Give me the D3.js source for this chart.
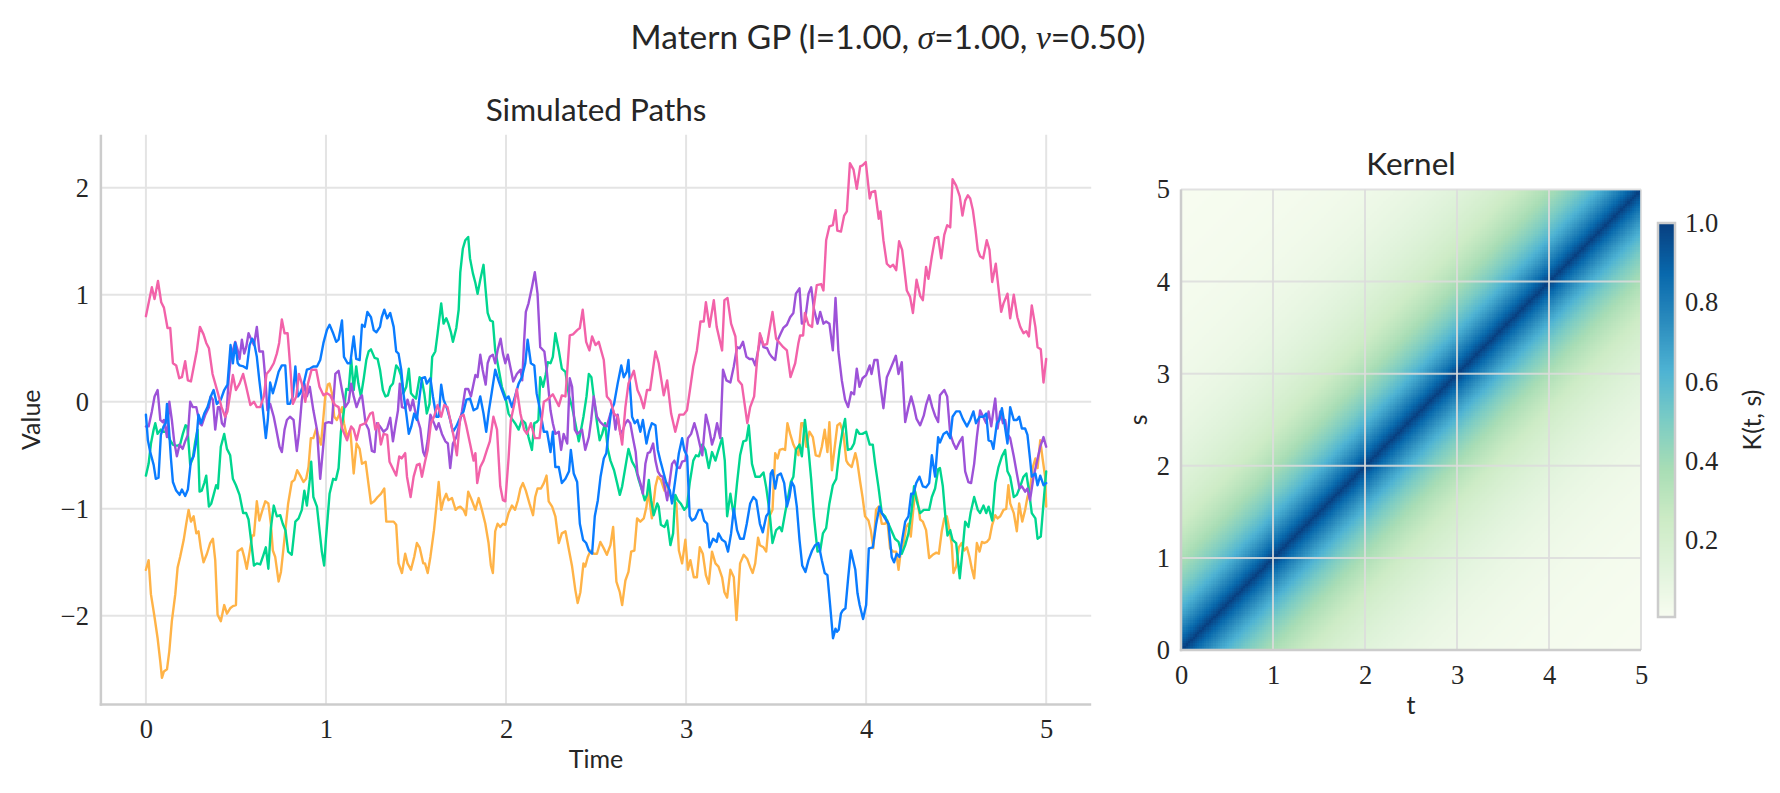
<!DOCTYPE html>
<html><head><meta charset="utf-8">
<script src="https://cdn.jsdelivr.net/npm/d3@7"></script>
<style>body{margin:0;background:#fff}svg{display:block}</style>
</head><body>
<svg id="c" width="1780" height="793"></svg>
<script>
// ---------- data ----------
const xTicks=[0,1,2,3,4,5];
const yTicks=[-2,-1,0,1,2];
const kernelTicks=[0,1,2,3,4,5];
const colorbarTicks=[0.2,0.4,0.6,0.8,1.0];
const lengthscale=1.0, sigma=1.0, nu=0.5;
const kernelGridSize=200;
const kernelRange=[0,5];

const pathBlue=[[0,-0.12],[0.011,-0.36],[0.024,-0.47],[0.043,-0.59],[0.055,-0.72],[0.07,-0.71],[0.083,-0.31],[0.098,-0.23],[0.11,-0.20],[0.117,-0.02],[0.126,-0.20],[0.139,-0.53],[0.15,-0.75],[0.168,-0.83],[0.187,-0.87],[0.20,-0.82],[0.218,-0.88],[0.233,-0.82],[0.25,-0.55],[0.265,-0.51],[0.28,-0.37],[0.292,-0.12],[0.307,-0.20],[0.324,-0.11],[0.342,-0.05],[0.36,0.05],[0.376,0.11],[0.394,-0.02],[0.416,0.02],[0.435,0.11],[0.453,0.16],[0.47,0.53],[0.483,0.36],[0.496,0.55],[0.51,0.36],[0.52,0.34],[0.542,0.33],[0.56,0.31],[0.576,0.53],[0.59,0.59],[0.60,0.56],[0.616,0.42],[0.63,0.20],[0.65,-0.08],[0.666,-0.34],[0.677,-0.17],[0.69,0.18],[0.705,0.08],[0.72,0.17],[0.737,0.28],[0.755,0.34],[0.774,0.34],[0.787,-0.02],[0.80,-0.02],[0.816,0.05],[0.83,0.33],[0.844,0.05],[0.857,0.08],[0.875,0.16],[0.894,0.30],[0.912,0.31],[0.93,0.33],[0.95,0.33],[0.968,0.39],[0.986,0.55],[1.005,0.67],[1.02,0.72],[1.04,0.64],[1.057,0.56],[1.07,0.58],[1.089,0.76],[1.10,0.42],[1.12,0.36],[1.135,0.36],[1.154,0.61],[1.168,0.40],[1.187,0.39],[1.20,0.72],[1.215,0.70],[1.23,0.84],[1.25,0.79],[1.265,0.67],[1.28,0.65],[1.30,0.70],[1.31,0.79],[1.324,0.86],[1.34,0.78],[1.357,0.83],[1.376,0.70],[1.39,0.47],[1.403,0.45],[1.418,0.30],[1.43,0.08],[1.446,-0.11],[1.46,-0.30],[1.474,-0.23],[1.49,-0.11],[1.505,-0.17],[1.52,0.05],[1.533,0.22],[1.55,0.23],[1.56,0.17],[1.58,0.22],[1.594,0.05],[1.613,-0.14],[1.626,-0.14],[1.64,0.16],[1.653,0.02],[1.672,-0.06],[1.69,-0.17],[1.705,-0.28],[1.724,-0.23],[1.742,-0.16],[1.764,-0.09],[1.78,0.02],[1.80,0.03],[1.82,-0.08],[1.84,-0.06],[1.857,0.05],[1.875,-0.11],[1.89,-0.28],[1.905,-0.08],[1.92,0.08],[1.94,0.30],[1.96,0.19],[1.977,0.11],[1.996,0.02],[2.014,0.05],[2.033,-0.05],[2.05,0.05],[2.07,0.17],[2.088,0.23],[2.107,0.36],[2.12,0.58],[2.138,0.36],[2.157,0.34],[2.17,0.08],[2.186,-0.05],[2.21,-0.28],[2.228,-0.28],[2.247,-0.47],[2.26,-0.28],[2.274,-0.61],[2.293,-0.61],[2.31,-0.76],[2.33,-0.72],[2.35,-0.65],[2.36,-0.45],[2.376,-0.67],[2.395,-0.75],[2.41,-1.14],[2.428,-1.29],[2.445,-1.32],[2.46,-1.39],[2.478,-1.42],[2.493,-1.07],[2.51,-0.92],[2.525,-0.70],[2.543,-0.53],[2.557,-0.48],[2.57,-0.28],[2.584,-0.08],[2.60,-0.02],[2.62,0.17],[2.64,0.34],[2.654,0.23],[2.67,0.28],[2.68,0.39],[2.69,0.11],[2.70,-0.14],[2.715,-0.20],[2.73,-0.17],[2.746,-0.28],[2.76,-0.17],[2.78,-0.39],[2.794,-0.28],[2.81,-0.20],[2.83,-0.22],[2.843,-0.45],[2.857,-0.55],[2.876,-0.67],[2.89,-0.76],[2.91,-0.83],[2.922,-0.95],[2.94,-0.73],[2.96,-0.48],[2.978,-0.34],[2.99,-0.45],[3.006,-0.51],[3.02,-1.07],[3.033,-1.11],[3.05,-1.09],[3.07,-1.01],[3.085,-1.01],[3.10,-1.11],[3.117,-1.14],[3.13,-1.36],[3.15,-1.28],[3.17,-1.31],[3.18,-1.23],[3.20,-1.29],[3.218,-1.31],[3.233,-1.40],[3.25,-1.23],[3.265,-1.00],[3.283,-1.20],[3.30,-1.28],[3.32,-1.28],[3.337,-1.14],[3.356,-0.95],[3.374,-0.89],[3.39,-0.92],[3.41,-1.14],[3.426,-1.22],[3.445,-1.07],[3.458,-1.04],[3.47,-0.67],[3.48,-0.64],[3.495,-0.81],[3.508,-0.69],[3.526,-0.67],[3.545,-0.76],[3.56,-0.98],[3.574,-0.89],[3.587,-0.75],[3.60,-0.79],[3.615,-0.98],[3.63,-1.29],[3.645,-1.53],[3.663,-1.59],[3.68,-1.48],[3.70,-1.39],[3.717,-1.34],[3.735,-1.32],[3.754,-1.48],[3.77,-1.60],[3.785,-1.62],[3.80,-1.90],[3.816,-2.21],[3.83,-2.12],[3.838,-2.15],[3.848,-2.13],[3.86,-1.98],[3.87,-1.95],[3.885,-1.93],[3.90,-1.65],[3.915,-1.39],[3.94,-1.57],[3.952,-1.79],[3.964,-1.90],[3.983,-2.03],[4.00,-1.90],[4.015,-1.37],[4.037,-1.36],[4.055,-1.15],[4.074,-0.98],[4.087,-1.04],[4.105,-1.09],[4.124,-1.14],[4.142,-1.45],[4.155,-1.50],[4.17,-1.42],[4.185,-1.45],[4.20,-1.29],[4.217,-1.12],[4.235,-1.07],[4.25,-0.86],[4.263,-0.86],[4.278,-0.76],[4.296,-0.70],[4.315,-0.79],[4.333,-0.80],[4.35,-0.76],[4.365,-0.50],[4.383,-0.70],[4.40,-0.33],[4.41,-0.38],[4.43,-0.30],[4.448,-0.28],[4.467,-0.34],[4.48,-0.14],[4.50,-0.09],[4.52,-0.09],[4.537,-0.16],[4.56,-0.23],[4.578,-0.17],[4.596,-0.09],[4.61,-0.20],[4.63,-0.14],[4.652,-0.14],[4.667,-0.11],[4.68,-0.36],[4.695,-0.37],[4.707,-0.44],[4.726,-0.20],[4.74,-0.17],[4.754,-0.06],[4.767,-0.19],[4.785,-0.39],[4.80,-0.05],[4.82,-0.17],[4.837,-0.17],[4.85,-0.14],[4.865,-0.25],[4.883,-0.25],[4.896,-0.31],[4.91,-0.53],[4.92,-0.70],[4.94,-0.67],[4.952,-0.78],[4.967,-0.69],[4.985,-0.78],[5.0,-0.76]];

const pathPink=[[0,0.80],[0.033,1.07],[0.048,0.96],[0.067,1.13],[0.085,0.93],[0.10,0.88],[0.12,0.69],[0.135,0.69],[0.15,0.36],[0.168,0.34],[0.185,0.22],[0.20,0.23],[0.218,0.38],[0.233,0.20],[0.25,0.19],[0.283,0.48],[0.30,0.70],[0.32,0.63],[0.335,0.55],[0.35,0.50],[0.37,0.26],[0.385,0.17],[0.40,0.08],[0.42,-0.05],[0.44,-0.14],[0.453,-0.09],[0.468,0.08],[0.483,0.25],[0.50,0.11],[0.52,0.17],[0.54,0.26],[0.557,0.14],[0.58,-0.03],[0.60,0.00],[0.616,-0.05],[0.635,-0.05],[0.655,0.05],[0.67,0.26],[0.69,0.30],[0.71,0.36],[0.727,0.45],[0.74,0.55],[0.755,0.77],[0.77,0.64],[0.787,0.64],[0.80,0.36],[0.816,-0.02],[0.835,0.05],[0.85,0.26],[0.866,0.17],[0.885,0.00],[0.90,0.17],[0.92,0.30],[0.946,0.30],[0.964,0.14],[0.986,0.06],[1.005,0.08],[1.023,0.06],[1.05,-0.03],[1.07,-0.05],[1.09,-0.25],[1.117,-0.36],[1.14,-0.23],[1.154,-0.26],[1.17,-0.36],[1.19,-0.22],[1.22,-0.20],[1.246,-0.11],[1.26,-0.10],[1.274,-0.26],[1.29,-0.20],[1.305,-0.40],[1.32,-0.30],[1.34,-0.31],[1.353,-0.56],[1.376,-0.64],[1.39,-0.69],[1.407,-0.51],[1.42,-0.53],[1.44,-0.48],[1.45,-0.70],[1.47,-0.89],[1.487,-0.70],[1.505,-0.59],[1.52,-0.58],[1.533,-0.70],[1.55,-0.56],[1.565,-0.45],[1.583,-0.20],[1.60,-0.14],[1.62,-0.03],[1.64,-0.14],[1.657,-0.03],[1.675,-0.05],[1.694,-0.20],[1.71,-0.33],[1.727,-0.50],[1.746,-0.14],[1.764,-0.12],[1.78,-0.23],[1.80,-0.39],[1.82,-0.55],[1.83,-0.48],[1.84,-0.76],[1.857,-0.61],[1.875,-0.55],[1.894,-0.45],[1.91,-0.37],[1.93,-0.14],[1.95,-0.26],[1.968,-0.79],[1.983,-0.92],[1.996,-0.93],[2.014,-0.53],[2.027,-0.17],[2.046,-0.02],[2.06,0.12],[2.08,-0.11],[2.10,-0.26],[2.116,-0.30],[2.138,-0.20],[2.16,-0.34],[2.186,-0.34],[2.21,0.00],[2.228,0.02],[2.26,0.07],[2.293,-0.04],[2.31,0.06],[2.33,0.05],[2.354,0.62],[2.372,0.63],[2.395,0.67],[2.41,0.69],[2.426,0.86],[2.445,0.56],[2.463,0.48],[2.478,0.61],[2.497,0.53],[2.515,0.56],[2.543,0.39],[2.56,0.05],[2.58,0.01],[2.60,-0.11],[2.62,-0.14],[2.645,-0.40],[2.663,-0.05],[2.68,0.17],[2.71,0.29],[2.73,0.11],[2.746,0.05],[2.765,-0.06],[2.783,0.11],[2.80,0.11],[2.83,0.47],[2.848,0.36],[2.876,0.06],[2.895,0.20],[2.917,-0.11],[2.94,-0.28],[2.963,-0.12],[2.987,-0.12],[3.005,-0.08],[3.024,0.14],[3.04,0.33],[3.06,0.48],[3.08,0.75],[3.098,0.75],[3.11,0.93],[3.13,0.70],[3.154,0.95],[3.17,0.70],[3.20,0.48],[3.213,0.95],[3.23,0.97],[3.25,0.73],[3.274,0.61],[3.29,0.20],[3.31,0.16],[3.34,-0.20],[3.356,-0.05],[3.378,0.05],[3.393,0.36],[3.41,0.64],[3.43,0.53],[3.45,0.54],[3.48,0.84],[3.50,0.59],[3.52,0.55],[3.54,0.51],[3.56,0.48],[3.58,0.23],[3.606,0.36],[3.624,0.55],[3.633,0.62],[3.65,0.62],[3.66,0.83],[3.68,0.72],[3.70,0.70],[3.708,0.87],[3.726,1.09],[3.75,1.10],[3.763,1.04],[3.778,1.51],[3.796,1.64],[3.815,1.65],[3.83,1.79],[3.84,1.60],[3.86,1.59],[3.878,1.74],[3.893,1.78],[3.91,2.23],[3.93,2.17],[3.948,1.99],[3.967,2.20],[3.98,2.21],[3.998,2.24],[4.02,1.90],[4.03,1.96],[4.05,1.97],[4.07,1.71],[4.08,1.78],[4.096,1.51],[4.115,1.29],[4.133,1.26],[4.15,1.28],[4.167,1.23],[4.183,1.50],[4.20,1.42],[4.226,1.04],[4.244,0.98],[4.26,0.83],[4.28,1.14],[4.30,0.99],[4.315,0.95],[4.333,1.26],[4.346,1.15],[4.365,1.36],[4.383,1.53],[4.40,1.54],[4.417,1.34],[4.434,1.56],[4.45,1.65],[4.467,1.63],[4.48,2.08],[4.50,2.02],[4.52,1.92],[4.535,1.74],[4.55,1.88],[4.565,1.93],[4.578,1.90],[4.593,1.79],[4.608,1.60],[4.62,1.42],[4.633,1.36],[4.65,1.34],[4.67,1.51],[4.685,1.42],[4.70,1.12],[4.72,1.29],[4.73,1.14],[4.75,0.84],[4.763,0.92],[4.785,1.01],[4.80,0.78],[4.82,1.00],[4.84,0.79],[4.856,0.70],[4.874,0.64],[4.89,0.66],[4.904,0.61],[4.92,0.90],[4.94,0.70],[4.952,0.51],[4.97,0.49],[4.985,0.18],[5.0,0.40]];

const pathPurple=[[0,-0.23],[0.015,-0.23],[0.033,-0.09],[0.048,0.05],[0.065,0.11],[0.08,-0.17],[0.093,-0.19],[0.10,-0.17],[0.117,-0.33],[0.13,0.00],[0.144,-0.17],[0.157,-0.37],[0.172,-0.51],[0.187,-0.40],[0.204,-0.44],[0.218,-0.37],[0.233,-0.31],[0.246,0.00],[0.26,-0.05],[0.28,-0.05],[0.298,-0.20],[0.31,-0.22],[0.33,-0.12],[0.35,-0.05],[0.36,0.05],[0.372,0.02],[0.385,-0.26],[0.40,-0.05],[0.41,-0.05],[0.422,-0.20],[0.435,-0.23],[0.45,-0.05],[0.46,0.22],[0.47,0.39],[0.483,0.48],[0.496,0.56],[0.51,0.48],[0.52,0.40],[0.533,0.58],[0.546,0.45],[0.557,0.51],[0.57,0.64],[0.583,0.59],[0.60,0.53],[0.616,0.70],[0.63,0.47],[0.65,0.47],[0.663,0.22],[0.675,-0.08],[0.69,-0.02],[0.71,-0.14],[0.724,-0.26],[0.742,-0.42],[0.755,-0.47],[0.77,-0.26],[0.783,-0.17],[0.80,-0.14],[0.82,-0.17],[0.838,-0.46],[0.85,-0.30],[0.866,0.02],[0.88,0.17],[0.894,0.05],[0.91,0.14],[0.93,-0.08],[0.95,-0.26],[0.968,-0.72],[0.983,-0.45],[0.996,-0.20],[1.015,-0.19],[1.033,-0.20],[1.052,0.26],[1.07,0.29],[1.089,0.11],[1.107,-0.05],[1.126,0.00],[1.14,0.17],[1.154,0.05],[1.17,-0.05],[1.187,0.03],[1.20,0.06],[1.22,-0.20],[1.237,-0.26],[1.255,-0.46],[1.27,-0.47],[1.283,-0.20],[1.30,-0.23],[1.32,-0.28],[1.34,-0.25],[1.357,-0.15],[1.372,-0.37],[1.385,-0.23],[1.40,-0.08],[1.41,0.17],[1.422,-0.05],[1.44,-0.06],[1.453,0.02],[1.468,-0.08],[1.483,0.02],[1.496,-0.09],[1.51,-0.17],[1.524,-0.25],[1.54,-0.47],[1.55,-0.51],[1.565,-0.36],[1.58,-0.12],[1.60,-0.20],[1.613,-0.26],[1.626,-0.20],[1.644,-0.30],[1.663,-0.37],[1.677,-0.39],[1.69,-0.62],[1.705,-0.39],[1.724,-0.33],[1.742,-0.20],[1.755,-0.09],[1.774,0.12],[1.79,0.12],[1.805,0.05],[1.82,0.17],[1.83,0.25],[1.842,0.23],[1.857,0.44],[1.87,0.30],[1.887,0.16],[1.898,0.36],[1.91,0.42],[1.927,0.44],[1.94,0.36],[1.953,0.48],[1.97,0.59],[1.983,0.45],[1.996,0.36],[2.01,0.44],[2.027,0.30],[2.04,0.19],[2.06,0.26],[2.08,0.30],[2.09,0.20],[2.10,0.55],[2.11,0.84],[2.125,0.92],[2.144,1.07],[2.16,1.21],[2.175,1.01],[2.19,0.51],[2.213,0.47],[2.228,0.26],[2.247,-0.08],[2.26,-0.20],[2.274,-0.30],[2.293,-0.28],[2.306,-0.45],[2.32,-0.30],[2.34,-0.39],[2.354,0.22],[2.367,0.14],[2.382,-0.26],[2.395,-0.30],[2.41,-0.28],[2.422,-0.26],[2.44,-0.45],[2.46,-0.33],[2.473,-0.17],[2.487,0.05],[2.505,-0.14],[2.524,-0.19],[2.543,-0.22],[2.56,-0.23],[2.58,-0.11],[2.595,-0.08],[2.608,-0.26],[2.62,-0.12],[2.635,-0.30],[2.65,-0.26],[2.663,-0.20],[2.676,-0.17],[2.69,-0.20],[2.705,-0.34],[2.72,-0.47],[2.73,-0.67],[2.746,-0.76],[2.76,-0.86],[2.774,-0.58],[2.787,-0.48],[2.80,-0.47],[2.817,-0.39],[2.83,-0.55],[2.843,-0.65],[2.857,-0.69],[2.87,-0.70],[2.885,-0.83],[2.895,-0.92],[2.91,-0.73],[2.922,-0.58],[2.935,-0.55],[2.95,-0.61],[2.965,-0.62],[2.978,-0.56],[2.996,-0.55],[3.01,-0.34],[3.028,-0.30],[3.046,-0.20],[3.06,-0.28],[3.076,-0.40],[3.09,-0.50],[3.11,-0.12],[3.126,-0.23],[3.144,-0.40],[3.157,-0.33],[3.172,-0.20],[3.19,-0.34],[3.205,0.30],[3.224,0.20],[3.246,0.18],[3.265,0.33],[3.283,0.51],[3.298,0.50],[3.316,0.56],[3.335,0.42],[3.352,0.40],[3.37,0.40],[3.384,0.34],[3.40,0.48],[3.415,0.61],[3.43,0.51],[3.45,0.50],[3.463,0.45],[3.476,0.42],[3.495,0.39],[3.51,0.58],[3.526,0.64],[3.54,0.69],[3.56,0.72],[3.578,0.79],[3.596,0.83],[3.61,1.01],[3.63,1.06],[3.643,0.73],[3.66,0.75],[3.68,1.01],[3.695,1.07],[3.71,0.87],[3.73,0.73],[3.745,0.84],[3.763,0.73],[3.778,0.75],[3.796,0.73],[3.815,0.48],[3.83,0.97],[3.846,0.47],[3.865,0.20],[3.883,0.02],[3.90,-0.05],[3.917,0.09],[3.933,0.07],[3.948,0.31],[3.963,0.14],[3.98,0.22],[4.00,0.25],[4.02,0.34],[4.03,0.26],[4.046,0.39],[4.063,0.39],[4.078,0.17],[4.096,-0.06],[4.115,0.23],[4.133,0.30],[4.148,0.36],[4.165,0.43],[4.18,0.26],[4.198,0.37],[4.217,-0.19],[4.235,-0.05],[4.25,0.05],[4.266,-0.05],[4.28,-0.16],[4.30,-0.22],[4.32,-0.13],[4.333,-0.03],[4.35,0.06],[4.367,-0.05],[4.383,-0.13],[4.40,-0.19],[4.41,0.06],[4.434,0.11],[4.45,0.05],[4.467,-0.30],[4.485,-0.39],[4.50,-0.44],[4.52,-0.37],[4.535,-0.33],[4.55,-0.65],[4.568,-0.75],[4.583,-0.76],[4.60,-0.58],[4.615,-0.33],[4.633,-0.08],[4.65,-0.14],[4.667,-0.20],[4.68,-0.09],[4.695,-0.23],[4.707,-0.08],[4.717,0.03],[4.73,-0.25],[4.745,-0.09],[4.76,-0.20],[4.772,-0.17],[4.785,-0.30],[4.80,-0.34],[4.82,-0.51],[4.837,-0.67],[4.852,-0.81],[4.865,-0.79],[4.883,-0.84],[4.896,-0.81],[4.91,-0.92],[4.93,-0.70],[4.95,-0.55],[4.967,-0.42],[4.985,-0.33],[5.0,-0.42]];

const pathGreen=[[0,-0.69],[0.015,-0.58],[0.028,-0.39],[0.043,-0.26],[0.052,-0.20],[0.065,-0.30],[0.083,-0.26],[0.098,-0.28],[0.117,-0.28],[0.135,-0.36],[0.15,-0.40],[0.163,-0.41],[0.176,-0.41],[0.19,-0.40],[0.205,-0.30],[0.22,-0.22],[0.23,-0.23],[0.246,-0.59],[0.26,-0.53],[0.274,-0.37],[0.287,-0.26],[0.298,-0.84],[0.31,-0.83],[0.324,-0.76],[0.335,-0.69],[0.35,-0.98],[0.363,-0.95],[0.376,-0.87],[0.39,-0.78],[0.40,-0.81],[0.416,-0.42],[0.435,-0.30],[0.45,-0.44],[0.468,-0.50],[0.483,-0.72],[0.50,-0.78],[0.52,-0.87],[0.54,-1.04],[0.557,-1.04],[0.57,-1.10],[0.583,-1.28],[0.60,-1.53],[0.616,-1.51],[0.635,-1.52],[0.653,-1.43],[0.666,-1.36],[0.68,-1.56],[0.694,-1.18],[0.71,-0.97],[0.727,-1.07],[0.746,-1.06],[0.76,-1.14],[0.775,-1.20],[0.79,-1.40],[0.81,-1.43],[0.83,-1.12],[0.848,-1.09],[0.866,-1.01],[0.88,-0.83],[0.894,-0.97],[0.91,-0.73],[0.918,-0.56],[0.93,-0.89],[0.95,-0.98],[0.964,-1.20],[0.977,-1.40],[0.99,-1.53],[1.0,-1.28],[1.02,-0.86],[1.04,-0.72],[1.055,-0.73],[1.07,-0.62],[1.083,-0.28],[1.098,-0.11],[1.113,0.12],[1.126,0.11],[1.14,0.40],[1.154,0.11],[1.168,0.33],[1.18,0.17],[1.194,0.05],[1.21,0.22],[1.224,0.39],[1.237,0.47],[1.25,0.49],[1.27,0.41],[1.287,0.40],[1.30,0.30],[1.316,0.11],[1.33,0.05],[1.344,0.06],[1.357,0.14],[1.372,0.17],[1.39,0.34],[1.403,0.31],[1.416,0.25],[1.43,0.08],[1.446,0.14],[1.46,0.31],[1.472,0.08],[1.487,0.05],[1.50,0.03],[1.52,0.23],[1.533,0.20],[1.546,0.08],[1.56,-0.11],[1.575,-0.02],[1.59,0.42],[1.607,0.47],[1.62,0.64],[1.64,0.92],[1.653,0.73],[1.668,0.78],[1.68,0.73],[1.694,0.65],[1.705,0.56],[1.724,0.69],[1.737,0.86],[1.746,1.21],[1.76,1.43],[1.774,1.51],[1.79,1.54],[1.80,1.34],[1.816,1.20],[1.83,1.11],[1.842,1.01],[1.857,1.14],[1.875,1.28],[1.887,1.04],[1.898,0.83],[1.912,0.76],[1.927,0.75],[1.94,0.48],[1.96,0.30],[1.977,0.14],[1.996,0.05],[2.014,-0.11],[2.033,-0.16],[2.05,-0.20],[2.07,-0.26],[2.088,-0.17],[2.107,-0.20],[2.125,-0.33],[2.144,-0.45],[2.157,-0.20],[2.17,-0.19],[2.18,-0.17],[2.19,0.23],[2.206,0.14],[2.22,0.25],[2.232,0.37],[2.247,0.36],[2.26,0.42],[2.274,0.64],[2.293,0.48],[2.31,0.31],[2.33,0.28],[2.35,0.05],[2.367,-0.05],[2.385,-0.20],[2.404,-0.37],[2.417,-0.26],[2.43,-0.14],[2.447,0.05],[2.46,0.26],[2.474,0.23],[2.487,0.05],[2.505,-0.19],[2.52,-0.36],[2.534,-0.30],[2.55,-0.20],[2.565,-0.44],[2.58,-0.55],[2.60,-0.64],[2.617,-0.76],[2.632,-0.87],[2.645,-0.79],[2.663,-0.61],[2.68,-0.44],[2.70,-0.56],[2.72,-0.62],[2.737,-0.73],[2.756,-0.83],[2.77,-0.92],[2.783,-0.87],[2.793,-0.73],[2.806,-0.92],[2.82,-1.06],[2.84,-0.95],[2.848,-0.98],[2.86,-1.15],[2.88,-1.17],[2.895,-1.11],[2.913,-1.34],[2.928,-1.23],[2.94,-0.87],[2.954,-0.92],[2.97,-0.95],[2.99,-1.01],[3.005,-0.98],[3.02,-0.76],[3.04,-0.55],[3.055,-0.50],[3.07,-0.51],[3.09,-0.40],[3.107,-0.45],[3.126,-0.62],[3.144,-0.47],[3.163,-0.55],[3.18,-0.45],[3.20,-0.34],[3.215,-0.55],[3.228,-1.07],[3.246,-0.86],[3.265,-1.07],[3.283,-0.76],[3.30,-0.50],[3.318,-0.37],[3.335,-0.36],[3.348,-0.22],[3.366,-0.58],[3.385,-0.70],[3.41,-0.70],[3.43,-0.66],[3.445,-0.80],[3.463,-1.02],[3.48,-1.32],[3.50,-1.20],[3.52,-1.17],[3.532,-1.21],[3.55,-1.04],[3.57,-0.86],[3.582,-0.75],[3.596,-0.70],[3.61,-0.45],[3.63,-0.40],[3.643,-0.51],[3.66,-0.17],[3.68,-0.45],[3.695,-0.73],[3.71,-1.07],[3.73,-1.40],[3.745,-1.39],[3.76,-1.23],[3.778,-1.18],[3.796,-0.95],[3.815,-0.78],[3.834,-0.72],[3.852,-0.45],[3.87,-0.26],[3.883,-0.16],[3.898,-0.45],[3.917,-0.44],[3.933,-0.39],[3.948,-0.26],[3.963,-0.30],[3.98,-0.30],[4.0,-0.28],[4.02,-0.40],[4.037,-0.40],[4.05,-0.58],[4.068,-0.79],[4.087,-1.04],[4.105,-1.07],[4.124,-1.14],[4.142,-1.21],[4.16,-1.28],[4.18,-1.31],[4.198,-1.42],[4.217,-1.34],[4.235,-1.23],[4.253,-1.01],[4.266,-0.79],[4.28,-0.92],[4.30,-1.04],[4.32,-1.01],[4.337,-1.01],[4.35,-1.01],[4.365,-0.89],[4.383,-0.81],[4.40,-0.63],[4.41,-0.62],[4.426,-0.79],[4.44,-1.07],[4.452,-1.25],[4.467,-1.20],[4.48,-1.29],[4.50,-1.32],[4.52,-1.65],[4.537,-1.36],[4.55,-1.12],[4.568,-1.17],[4.58,-1.04],[4.60,-0.89],[4.62,-1.01],[4.633,-1.04],[4.652,-0.97],[4.667,-1.04],[4.68,-0.98],[4.70,-1.11],[4.717,-0.76],[4.735,-0.61],[4.754,-0.51],[4.772,-0.45],[4.785,-0.65],[4.80,-0.70],[4.82,-0.89],[4.837,-0.87],[4.856,-0.79],[4.874,-0.70],[4.89,-0.67],[4.904,-0.83],[4.92,-1.04],[4.94,-1.09],[4.952,-1.28],[4.97,-1.26],[4.985,-0.95],[5.0,-0.65]];

const pathOrange=[[0,-1.57],[0.015,-1.48],[0.028,-1.80],[0.046,-1.99],[0.065,-2.21],[0.08,-2.43],[0.089,-2.58],[0.10,-2.52],[0.117,-2.50],[0.13,-2.33],[0.144,-2.05],[0.163,-1.80],[0.176,-1.55],[0.19,-1.45],[0.21,-1.29],[0.224,-1.14],[0.237,-1.01],[0.25,-1.12],[0.265,-1.07],[0.28,-1.23],[0.292,-1.21],[0.305,-1.37],[0.32,-1.50],[0.339,-1.42],[0.357,-1.32],[0.372,-1.28],[0.385,-1.48],[0.398,-1.99],[0.416,-2.05],[0.435,-1.90],[0.45,-1.98],[0.468,-1.93],[0.483,-1.91],[0.50,-1.90],[0.509,-1.40],[0.533,-1.37],[0.546,-1.45],[0.56,-1.56],[0.576,-1.40],[0.59,-1.25],[0.60,-1.25],[0.616,-0.93],[0.63,-1.11],[0.644,-1.03],[0.663,-0.93],[0.68,-0.95],[0.694,-1.14],[0.705,-1.39],[0.718,-1.45],[0.737,-1.68],[0.75,-1.59],[0.764,-1.37],[0.78,-1.11],[0.79,-0.95],[0.81,-0.75],[0.825,-0.73],[0.84,-0.64],[0.857,-0.69],[0.875,-0.75],[0.89,-0.72],[0.903,-0.61],[0.916,-0.34],[0.93,-0.34],[0.946,-0.25],[0.96,-0.33],[0.972,-0.40],[0.983,-0.20],[0.996,0.05],[1.01,0.16],[1.02,0.17],[1.033,0.08],[1.046,-0.14],[1.06,-0.17],[1.076,-0.11],[1.09,-0.05],[1.10,-0.20],[1.117,-0.33],[1.135,-0.26],[1.154,-0.67],[1.17,-0.39],[1.187,-0.44],[1.20,-0.58],[1.22,-0.56],[1.237,-0.78],[1.25,-0.95],[1.268,-0.93],[1.287,-0.89],[1.305,-0.86],[1.324,-0.81],[1.335,-1.12],[1.357,-1.12],[1.376,-1.12],[1.39,-1.15],[1.403,-1.51],[1.422,-1.60],[1.44,-1.42],[1.453,-1.51],[1.472,-1.57],[1.49,-1.45],[1.505,-1.32],[1.52,-1.36],[1.54,-1.51],[1.55,-1.51],[1.565,-1.60],[1.58,-1.45],[1.60,-1.20],[1.613,-0.98],[1.626,-0.75],[1.64,-1.01],[1.653,-0.92],[1.668,-0.86],[1.68,-0.92],[1.70,-0.90],[1.72,-1.01],[1.733,-0.99],[1.746,-0.98],[1.764,-1.01],[1.777,-1.06],[1.79,-0.84],[1.81,-0.92],[1.83,-1.01],[1.848,-0.90],[1.866,-1.01],[1.885,-1.14],[1.903,-1.32],[1.916,-1.53],[1.927,-1.60],[1.94,-1.21],[1.953,-1.14],[1.968,-1.17],[1.983,-1.14],[1.996,-1.15],[2.014,-1.04],[2.033,-0.97],[2.05,-1.01],[2.066,-0.92],[2.08,-0.81],[2.094,-0.76],[2.11,-0.83],[2.13,-0.95],[2.15,-1.06],[2.162,-0.89],[2.175,-0.81],[2.194,-0.81],[2.21,-0.76],[2.225,-0.69],[2.237,-0.93],[2.256,-0.98],[2.274,-1.07],[2.293,-1.32],[2.31,-1.23],[2.33,-1.21],[2.35,-1.39],[2.367,-1.54],[2.385,-1.76],[2.398,-1.88],[2.413,-1.78],[2.43,-1.51],[2.44,-1.54],[2.454,-1.45],[2.47,-1.39],[2.487,-1.42],[2.505,-1.42],[2.524,-1.31],[2.543,-1.37],[2.56,-1.43],[2.58,-1.34],[2.595,-1.17],[2.613,-1.68],[2.632,-1.78],[2.645,-1.90],[2.663,-1.67],[2.68,-1.59],[2.695,-1.40],[2.713,-1.39],[2.728,-1.09],[2.746,-1.12],[2.765,-1.09],[2.78,-0.98],[2.79,-0.83],[2.81,-1.09],[2.83,-0.79],[2.843,-0.70],[2.86,-0.73],[2.88,-0.83],[2.895,-0.76],[2.91,-0.87],[2.928,-0.92],[2.946,-0.95],[2.96,-1.39],[2.978,-1.51],[2.996,-1.29],[3.01,-1.57],[3.024,-1.48],[3.043,-1.64],[3.06,-1.64],[3.076,-1.36],[3.093,-1.42],[3.11,-1.62],[3.126,-1.70],[3.144,-1.40],[3.163,-1.51],[3.18,-1.54],[3.20,-1.64],[3.213,-1.78],[3.228,-1.83],[3.246,-1.57],[3.265,-1.64],[3.28,-2.04],[3.30,-1.51],[3.32,-1.43],[3.34,-1.47],[3.357,-1.55],[3.37,-1.60],[3.384,-1.51],[3.40,-1.27],[3.41,-1.34],[3.43,-1.36],[3.445,-1.40],[3.463,-1.07],[3.48,-1.01],[3.495,-0.48],[3.508,-0.53],[3.52,-0.45],[3.537,-0.44],[3.55,-0.45],[3.563,-0.20],[3.578,-0.30],[3.596,-0.40],[3.61,-0.45],[3.624,-0.50],[3.64,-0.20],[3.65,-0.20],[3.667,-0.42],[3.685,-0.28],[3.704,-0.33],[3.72,-0.50],[3.74,-0.51],[3.754,-0.42],[3.77,-0.26],[3.785,-0.47],[3.796,-0.19],[3.81,-0.64],[3.83,-0.36],[3.84,-0.22],[3.855,-0.20],[3.874,-0.30],[3.89,-0.55],[3.90,-0.58],[3.92,-0.61],[3.94,-0.48],[3.95,-0.55],[3.967,-0.75],[3.98,-0.89],[3.994,-1.07],[4.013,-1.11],[4.026,-1.20],[4.04,-1.37],[4.055,-1.01],[4.07,-0.98],[4.087,-1.14],[4.105,-1.14],[4.118,-1.11],[4.133,-1.37],[4.15,-1.40],[4.167,-1.40],[4.18,-1.57],[4.19,-1.43],[4.207,-1.34],[4.222,-1.17],[4.235,-1.14],[4.248,-1.26],[4.26,-1.04],[4.272,-0.84],[4.285,-0.92],[4.30,-1.10],[4.315,-1.12],[4.333,-1.20],[4.35,-1.46],[4.37,-1.43],[4.39,-1.41],[4.404,-1.42],[4.42,-1.21],[4.434,-1.09],[4.448,-1.07],[4.463,-1.20],[4.476,-1.34],[4.485,-1.60],[4.50,-1.54],[4.515,-1.36],[4.53,-1.32],[4.545,-1.39],[4.56,-1.36],[4.574,-1.45],[4.587,-1.56],[4.60,-1.65],[4.615,-1.32],[4.63,-1.40],[4.643,-1.31],[4.657,-1.32],[4.67,-1.31],[4.685,-1.28],[4.70,-1.15],[4.717,-1.06],[4.73,-1.09],[4.745,-1.07],[4.763,-1.01],[4.778,-1.00],[4.79,-0.78],[4.80,-0.95],[4.82,-1.04],[4.837,-1.21],[4.85,-0.95],[4.867,-1.12],[4.883,-1.01],[4.896,-0.89],[4.91,-0.81],[4.926,-0.61],[4.94,-0.53],[4.952,-0.62],[4.967,-0.36],[4.98,-0.53],[4.994,-0.70],[5.0,-0.98]];

const seriesPaths=[pathOrange,pathGreen,pathPurple,pathBlue,pathPink];
const seriesColors=['#ffb347','#00d68f','#9d52d8','#0a7cff','#f262a9'];
const gnbuStops=['#f7fcf0','#e0f3db','#ccebc5','#a8ddb5','#7bccc4','#4eb3d3','#2b8cbe','#0868ac','#084081'];

// ---------- styles ----------
const SANS="Lato, 'Open Sans', 'DejaVu Sans', sans-serif";
const SERIF="'Liberation Serif', 'DejaVu Serif', serif";
const TXT='#262626';
const svg=d3.select('#c');

// ---------- left panel ----------
const L={x0:100.9,x1:1091.2,y0:134.8,y1:704.6};
const x=d3.scaleLinear().domain([-0.25,5.25]).range([L.x0,L.x1]);
const y=d3.scaleLinear().domain([-2.83,2.495]).range([L.y1,L.y0]);

const gl=svg.append('g');
gl.selectAll('line.gx').data(xTicks).join('line')
  .attr('x1',d=>x(d)).attr('x2',d=>x(d)).attr('y1',L.y0).attr('y2',L.y1)
  .attr('stroke','#e4e4e4').attr('stroke-width',2);
gl.selectAll('line.gy').data(yTicks).join('line')
  .attr('x1',L.x0).attr('x2',L.x1).attr('y1',d=>y(d)).attr('y2',d=>y(d))
  .attr('stroke','#e4e4e4').attr('stroke-width',2);

const line=d3.line().x(d=>x(d[0])).y(d=>y(d[1]));
svg.append('g').selectAll('path').data(seriesPaths).join('path')
  .attr('d',d=>line(d)).attr('fill','none')
  .attr('stroke',(d,i)=>seriesColors[i]).attr('stroke-width',2.4)
  .attr('stroke-linejoin','round').attr('stroke-linecap','round');

function styleAxis(g,size){
  g.select('.domain').remove();
  g.selectAll('text').attr('font-family',SERIF).attr('font-size',size).attr('fill',TXT);
}
svg.append('g').attr('transform',`translate(0,${L.y1})`)
  .call(d3.axisBottom(x).tickValues(xTicks).tickSize(0).tickPadding(15).tickFormat(d3.format('d')))
  .call(g=>styleAxis(g,26.5));
svg.append('g').attr('transform',`translate(${L.x0},0)`)
  .call(d3.axisLeft(y).tickValues(yTicks).tickSize(0).tickPadding(12).tickFormat(d3.format('d')))
  .call(g=>styleAxis(g,26.5));

svg.append('line').attr('x1',L.x0).attr('x2',L.x0).attr('y1',L.y0).attr('y2',L.y1+1.2).attr('stroke','#cccccc').attr('stroke-width',2.5);
svg.append('line').attr('x1',L.x0-1.2).attr('x2',L.x1).attr('y1',L.y1).attr('y2',L.y1).attr('stroke','#cccccc').attr('stroke-width',2.5);

svg.append('text').attr('x',(L.x0+L.x1)/2).attr('y',121).attr('text-anchor','middle')
  .attr('font-family',SANS).attr('font-size',31.5).attr('fill',TXT).text('Simulated Paths');
svg.append('text').attr('x',(L.x0+L.x1)/2).attr('y',768).attr('text-anchor','middle')
  .attr('font-family',SANS).attr('font-size',25).attr('fill',TXT).text('Time');
svg.append('text').attr('transform',`translate(40,${(L.y0+L.y1)/2}) rotate(-90)`).attr('text-anchor','middle')
  .attr('font-family',SANS).attr('font-size',25).attr('fill',TXT).text('Value');

// ---------- kernel panel ----------
const H={x0:1181,x1:1641,y0:189.5,y1:650};
const kx=d3.scaleLinear().domain(kernelRange).range([H.x0,H.x1]);
const ky=d3.scaleLinear().domain(kernelRange).range([H.y1,H.y0]);
const grid=d3.range(kernelGridSize).map(i=>kernelRange[0]+(kernelRange[1]-kernelRange[0])*i/(kernelGridSize-1));
// Matern nu=1/2 kernel defined by the title parameters
const kernelFn=(a,b)=>sigma*sigma*Math.exp(-Math.abs(a-b)/lengthscale);
const cells=[];
grid.forEach((tv,i)=>grid.forEach((sv,j)=>cells.push({i,j,v:kernelFn(tv,sv)})));
const kExt=d3.extent(cells,d=>d.v);
const cmap=d3.scaleSequential(d3.piecewise(d3.interpolateRgb,gnbuStops)).domain(kExt);
const cw=(kernelRange[1]-kernelRange[0])/kernelGridSize;
const cellW=kx(cw)-kx(0), cellH=ky(0)-ky(cw);
svg.append('g').attr('shape-rendering','crispEdges').selectAll('rect').data(cells).join('rect')
  .attr('x',d=>kx(d.i*cw)).attr('y',d=>ky((d.j+1)*cw))
  .attr('width',cellW+0.4).attr('height',cellH+0.4)
  .attr('fill',d=>cmap(d.v));

const gk=svg.append('g');
gk.selectAll('line.kx').data(kernelTicks).join('line')
  .attr('x1',d=>kx(d)).attr('x2',d=>kx(d)).attr('y1',H.y0).attr('y2',H.y1)
  .attr('stroke','#dcdcdc').attr('stroke-opacity',0.85).attr('stroke-width',2);
gk.selectAll('line.ky').data(kernelTicks).join('line')
  .attr('x1',H.x0).attr('x2',H.x1).attr('y1',d=>ky(d)).attr('y2',d=>ky(d))
  .attr('stroke','#dcdcdc').attr('stroke-opacity',0.85).attr('stroke-width',2);

svg.append('g').attr('transform',`translate(0,${H.y1})`)
  .call(d3.axisBottom(kx).tickValues(kernelTicks).tickSize(0).tickPadding(15).tickFormat(d3.format('d')))
  .call(g=>styleAxis(g,26.5));
svg.append('g').attr('transform',`translate(${H.x0},0)`)
  .call(d3.axisLeft(ky).tickValues(kernelTicks).tickSize(0).tickPadding(11).tickFormat(d3.format('d')))
  .call(g=>styleAxis(g,26.5));
svg.append('line').attr('x1',H.x0).attr('x2',H.x0).attr('y1',H.y0).attr('y2',H.y1+1.2).attr('stroke','#cccccc').attr('stroke-width',2.5);
svg.append('line').attr('x1',H.x0-1.2).attr('x2',H.x1).attr('y1',H.y1).attr('y2',H.y1).attr('stroke','#cccccc').attr('stroke-width',2.5);

svg.append('text').attr('x',(H.x0+H.x1)/2).attr('y',175).attr('text-anchor','middle')
  .attr('font-family',SANS).attr('font-size',31.5).attr('fill',TXT).text('Kernel');
svg.append('text').attr('x',(H.x0+H.x1)/2).attr('y',714).attr('text-anchor','middle')
  .attr('font-family',SANS).attr('font-size',25).attr('fill',TXT).text('t');
svg.append('text').attr('transform',`translate(1147,${(H.y0+H.y1)/2}) rotate(-90)`).attr('text-anchor','middle')
  .attr('font-family',SANS).attr('font-size',25).attr('fill',TXT).text('s');

// ---------- colorbar ----------
const C={x0:1658,x1:1675,y0:223,y1:617};
const cy=d3.scaleLinear().domain(kExt).range([C.y1,C.y0]);
const cbSteps=d3.range(256).map(k=>kExt[0]+(kExt[1]-kExt[0])*k/255);
const stepH=(C.y1-C.y0)/256;
svg.append('g').attr('shape-rendering','crispEdges').selectAll('rect').data(cbSteps).join('rect')
  .attr('x',C.x0).attr('width',C.x1-C.x0)
  .attr('y',(d,k)=>C.y1-(k+1)*stepH).attr('height',stepH+0.6)
  .attr('fill',d=>cmap(d));
svg.append('rect').attr('x',C.x0).attr('y',C.y0).attr('width',C.x1-C.x0).attr('height',C.y1-C.y0)
  .attr('fill','none').attr('stroke','#cccccc').attr('stroke-width',2.5);
svg.append('g').attr('transform',`translate(${C.x1},0)`)
  .call(d3.axisRight(cy).tickValues(colorbarTicks).tickSize(0).tickPadding(10).tickFormat(d3.format('.1f')))
  .call(g=>styleAxis(g,26.5));
svg.append('text').attr('transform',`translate(1761,${(C.y0+C.y1)/2}) rotate(-90)`).attr('text-anchor','middle')
  .attr('font-family',SANS).attr('font-size',25).attr('fill',TXT).text('K(t, s)');

// ---------- suptitle ----------
const st=svg.append('text').attr('x',888).attr('y',49).attr('text-anchor','middle')
  .attr('font-family',SANS).attr('font-size',33.5).attr('fill',TXT);
st.append('tspan').text('Matern GP (l=1.00, ');
st.append('tspan').attr('font-family',SERIF).attr('font-style','italic').text('σ');
st.append('tspan').text('=1.00, ');
st.append('tspan').attr('font-family',SERIF).attr('font-style','italic').text('ν');
st.append('tspan').text('=0.50)');
</script>
</body></html>
